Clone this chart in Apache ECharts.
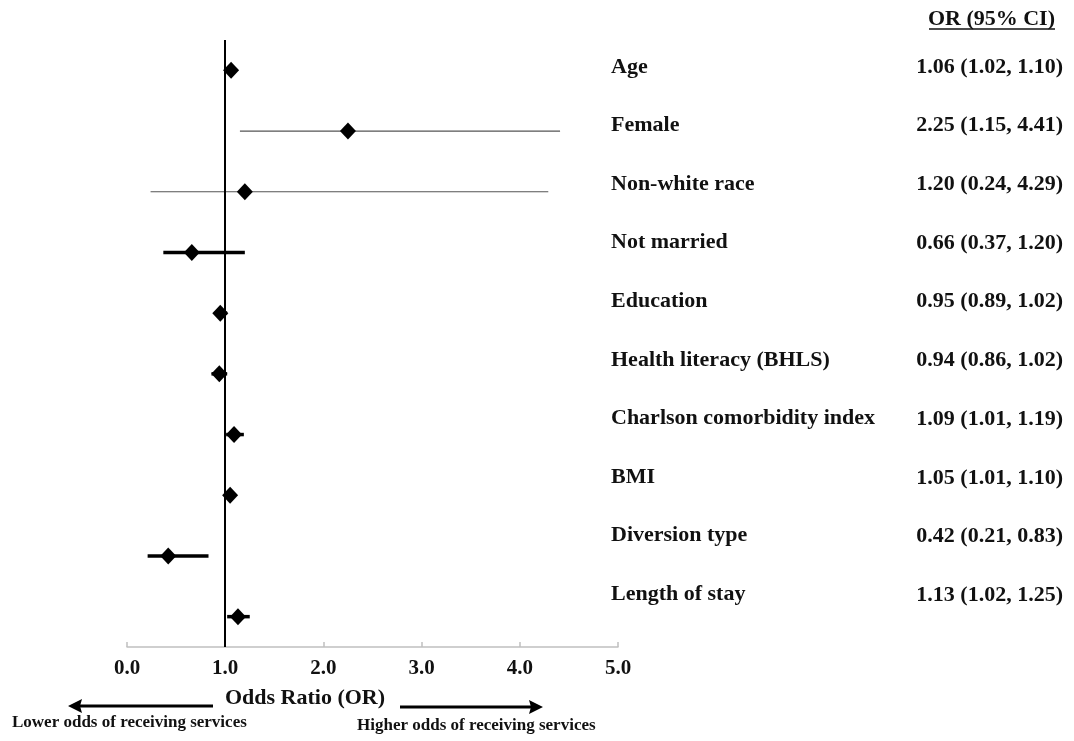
<!DOCTYPE html>
<html>
<head>
<meta charset="utf-8">
<script src="https://cdn.jsdelivr.net/npm/echarts@6/dist/echarts.min.js"></script>
<style>
html,body{margin:0;padding:0;background:#fff;}
#chart{width:1074px;height:741px;}
</style>
</head>
<body>
<div id="chart"></div>
<script>
// ---- data ----
const categories = ['Age','Female','Non-white race','Not married','Education','Health literacy (BHLS)','Charlson comorbidity index','BMI','Diversion type','Length of stay'];
const oddsRatio = [1.06, 2.25, 1.20, 0.66, 0.95, 0.94, 1.09, 1.05, 0.42, 1.13];
const ciLow    = [1.02, 1.15, 0.24, 0.37, 0.89, 0.86, 1.01, 1.01, 0.21, 1.02];
const ciHigh   = [1.10, 4.41, 4.29, 1.20, 1.02, 1.02, 1.19, 1.10, 0.83, 1.25];
const xTicks = [0, 1, 2, 3, 4, 5];
const referenceValue = 1;
const headerText = 'OR (95% CI)';
const axisTitle = 'Odds Ratio (OR)';
const lowerText = 'Lower odds of receiving services';
const higherText = 'Higher odds of receiving services';

// ---- style ----
const FONT = "'Liberation Serif','Times New Roman',serif";
const thinRows = ['Female', 'Non-white race'];

const chart = echarts.init(document.getElementById('chart'));

const fmt = v => v.toFixed(2);
const valueTexts = oddsRatio.map((v, i) => fmt(v) + ' (' + fmt(ciLow[i]) + ', ' + fmt(ciHigh[i]) + ')');

function txt(x, y, text, size, align) {
  return {
    type: 'text', x: x, y: y, z: 10,
    style: { text: text, font: 'bold ' + size + 'px ' + FONT, fill: '#111',
      align: align, verticalAlign: 'middle', textAlign: align, textVerticalAlign: 'middle' }
  };
}

const graphics = [];
categories.forEach((c, i) => {
  graphics.push(txt(611, 67 + i * 58.6, c, 22, 'left'));
  graphics.push(txt(1063, 67 + i * 58.7, valueTexts[i], 22, 'right'));
});
// header
graphics.push(txt(1055, 19, headerText, 22, 'right'));
graphics.push({ type: 'line', shape: { x1: 929, y1: 29, x2: 1055, y2: 29 }, style: { stroke: '#111', lineWidth: 1.5 } });
// axis title
graphics.push(txt(305, 698, axisTitle, 22, 'center'));
// arrows
graphics.push({ type: 'line', shape: { x1: 213, y1: 706, x2: 78, y2: 706 }, style: { stroke: '#000', lineWidth: 3 } });
graphics.push({ type: 'polygon', shape: { points: [[68, 706], [82, 699], [80, 706], [82, 713]] }, style: { fill: '#000' } });
graphics.push({ type: 'line', shape: { x1: 400, y1: 707, x2: 533, y2: 707 }, style: { stroke: '#000', lineWidth: 3 } });
graphics.push({ type: 'polygon', shape: { points: [[543, 707], [529, 700], [531, 707], [529, 714]] }, style: { fill: '#000' } });
graphics.push(txt(12, 723, lowerText, 17, 'left'));
graphics.push(txt(357, 726, higherText, 17, 'left'));

const option = {
  backgroundColor: '#fff',
  animation: false,
  grid: { left: 127, right: 456, top: 40, bottom: 94, containLabel: false },
  xAxis: {
    type: 'value', min: 0, max: 5, interval: 1,
    axisLine: { show: true, lineStyle: { color: '#c0c0c0', width: 1.5 } },
    axisTick: { show: true, inside: true, length: 5, lineStyle: { color: '#c0c0c0', width: 1.5 } },
    splitLine: { show: false },
    axisLabel: {
      margin: 11, color: '#111', fontFamily: FONT, fontWeight: 'bold', fontSize: 21,
      formatter: v => xTicks.includes(v) ? v.toFixed(1) : ''
    }
  },
  yAxis: {
    type: 'category', data: categories, inverse: true,
    axisLine: { show: false }, axisTick: { show: false }, axisLabel: { show: false }, splitLine: { show: false }
  },
  graphic: graphics,
  series: [
    {
      type: 'custom',
      name: 'CI',
      data: categories.map((c, i) => [ciLow[i], ciHigh[i], i]),
      renderItem: (params, api) => {
        const i = api.value(2);
        const p1 = api.coord([api.value(0), i]);
        const p2 = api.coord([api.value(1), i]);
        const thin = thinRows.includes(categories[i]);
        return {
          type: 'line',
          shape: { x1: p1[0], y1: p1[1], x2: p2[0], y2: p2[1] },
          style: { stroke: thin ? '#555' : '#000', lineWidth: thin ? 1.2 : 3.5 }
        };
      },
      z: 2
    },
    {
      type: 'scatter',
      name: 'OR',
      data: oddsRatio.map((v, i) => [v, i]),
      symbol: 'diamond',
      symbolSize: [16, 17],
      itemStyle: { color: '#000', opacity: 1 },
      z: 5,
      markLine: {
        silent: true, symbol: 'none', label: { show: false },
        lineStyle: { color: '#000', width: 2, type: 'solid', opacity: 1 },
        data: [{ xAxis: referenceValue }]
      }
    }
  ]
};
chart.setOption(option);
</script>
</body>
</html>
